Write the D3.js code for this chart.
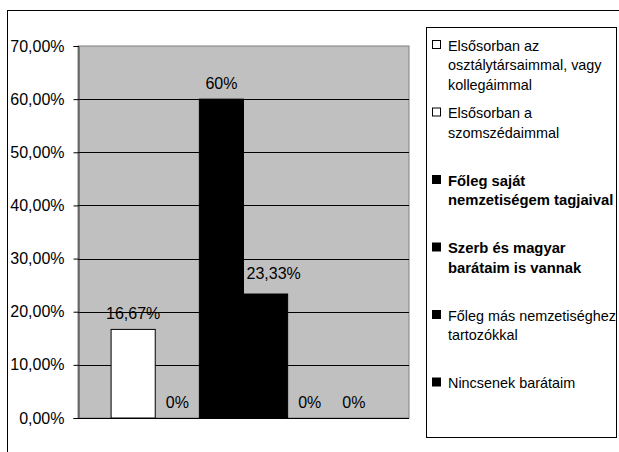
<!DOCTYPE html>
<html>
<head>
<meta charset="utf-8">
<script src="https://cdn.jsdelivr.net/npm/d3@7"></script>
<style>
  body { margin: 0; background: #fff; }
  svg { display: block; font-family: "Liberation Sans", Arial, sans-serif; }
</style>
</head>
<body>
<svg id="svg"></svg>
<script>
const width = 619;
const height = 452;

// one category, six series (Excel clustered column)
const seriesNames = [
    "Elsősorban az osztálytársaimmal, vagy kollegáimmal",
    "Elsősorban a szomszédaimmal",
    "Főleg saját nemzetiségem tagjaival",
    "Szerb és magyar barátaim is vannak",
    "Főleg más nemzetiséghez tartozókkal",
    "Nincsenek barátaim"
];
const seriesValues = [0.1667, 0, 0.60, 0.2333, 0, 0];
const valueLabels = ["16,67%", "0%", "60%", "23,33%", "0%", "0%"];
const seriesColors = ["#ffffff", "#ffffff", "#000000", "#000000", "#000000", "#000000"];
const legendLines = [
    ["Elsősorban az", "osztálytársaimmal, vagy", "kollegáimmal"],
    ["Elsősorban a", "szomszédaimmal"],
    ["Főleg saját", "nemzetiségem tagjaival"],
    ["Szerb és magyar", "barátaim is vannak"],
    ["Főleg más nemzetiséghez", "tartozókkal"],
    ["Nincsenek barátaim"]
];
const legendBold = [false, false, true, true, false, false];
const yTicks = [0, 0.1, 0.2, 0.3, 0.4, 0.5, 0.6, 0.7];

let svg = d3.select("#svg").attr("width", width).attr("height", height);

const locale = d3.formatLocale({ decimal: ",", thousands: " ", grouping: [3], currency: ["", ""] });
const tickFormat = locale.format(".2%");

const plot = { left: 78, right: 409, top: 46, bottom: 418 };

// outer chart border (runs off the right and bottom edges)
svg.append("rect")
    .attr("x", 7.5).attr("y", 10.5)
    .attr("width", 700).attr("height", 500)
    .attr("fill", "none")
    .attr("stroke", "#000")
    .attr("stroke-width", 1);

let yScale = d3.scaleLinear()
    .domain([0, 0.7])
    .range([plot.bottom, plot.top]);

let xScale = d3.scaleBand()
    .domain(seriesNames)
    .range([plot.left, plot.right])
    .paddingInner(0)
    .paddingOuter(0.75);

// plot background
svg.append("rect")
    .attr("x", plot.left).attr("y", plot.top)
    .attr("width", plot.right - plot.left)
    .attr("height", plot.bottom - plot.top)
    .attr("fill", "#c0c0c0")
    .attr("stroke", "#808080")
    .attr("stroke-width", 1);

// gridlines
svg.append("g")
    .selectAll("line")
    .data(yTicks.filter(d => d > 0 && d < 0.7))
    .enter().append("line")
    .attr("x1", plot.left).attr("x2", plot.right)
    .attr("y1", d => Math.round(yScale(d)) + 0.5)
    .attr("y2", d => Math.round(yScale(d)) + 0.5)
    .attr("stroke", "#000")
    .attr("stroke-width", 1);

// bars
svg.append("g")
    .selectAll("rect")
    .data(seriesValues)
    .enter().append("rect")
    .attr("x", (d, i) => xScale(seriesNames[i]))
    .attr("width", xScale.bandwidth())
    .attr("y", d => yScale(d))
    .attr("height", d => plot.bottom - yScale(d))
    .attr("fill", (d, i) => seriesColors[i])
    .attr("stroke", d => d > 0 ? "#000" : "none")
    .attr("stroke-width", 1);

// y axis
const yAxis = svg.append("g")
    .attr("transform", `translate(${plot.left + 0.5},0)`)
    .call(d3.axisLeft(yScale).tickValues(yTicks).tickFormat(tickFormat).tickSize(5).tickPadding(9));
yAxis.select(".domain").attr("stroke", "#333");
yAxis.selectAll(".tick line").attr("stroke", "#000");
yAxis.selectAll("text")
    .style("font-size", "16px")
    .style("font-family", "Liberation Sans, Arial, sans-serif")
    .attr("fill", "#000");

// x axis line
svg.append("line")
    .attr("x1", plot.left).attr("x2", plot.right)
    .attr("y1", plot.bottom + 0.5).attr("y2", plot.bottom + 0.5)
    .attr("stroke", "#000");

// value labels; a label that would run into a taller bar on its left is
// nudged right and up, as Excel does
function labelShifted(d, i) {
    return i > 0 && seriesValues[i - 1] > d && d > 0;
}
svg.append("g")
    .selectAll("text")
    .data(seriesValues)
    .enter().append("text")
    .attr("x", (d, i) => labelShifted(d, i)
        ? xScale(seriesNames[i]) + 3
        : xScale(seriesNames[i]) + xScale.bandwidth() / 2)
    .attr("y", (d, i) => yScale(d) - (labelShifted(d, i) ? 15 : 10))
    .attr("text-anchor", (d, i) => labelShifted(d, i) ? "start" : "middle")
    .style("font-size", "16px")
    .attr("fill", "#000")
    .text((d, i) => valueLabels[i]);

// legend
const legend = svg.append("g");
legend.append("rect")
    .attr("x", 426.5).attr("y", 27.5)
    .attr("width", 190).attr("height", 410)
    .attr("fill", "#fff")
    .attr("stroke", "#000");

legendLines.forEach((lines, i) => {
    const cy = 45 + i * 67.5;
    legend.append("rect")
        .attr("x", 432.5).attr("y", cy - 4.5)
        .attr("width", 8).attr("height", 8)
        .attr("fill", seriesColors[i])
        .attr("stroke", "#000");
    const t = legend.append("text")
        .attr("x", 448)
        .attr("y", cy + 5.5)
        .style("font-size", legendBold[i] ? "14.8px" : "14.4px")
        .style("font-weight", legendBold[i] ? "bold" : "normal")
        .attr("fill", "#000");
    lines.forEach((line, j) => {
        t.append("tspan")
            .attr("x", 448)
            .attr("dy", j === 0 ? 0 : 19.5)
            .text(line);
    });
});
</script>
</body>
</html>
